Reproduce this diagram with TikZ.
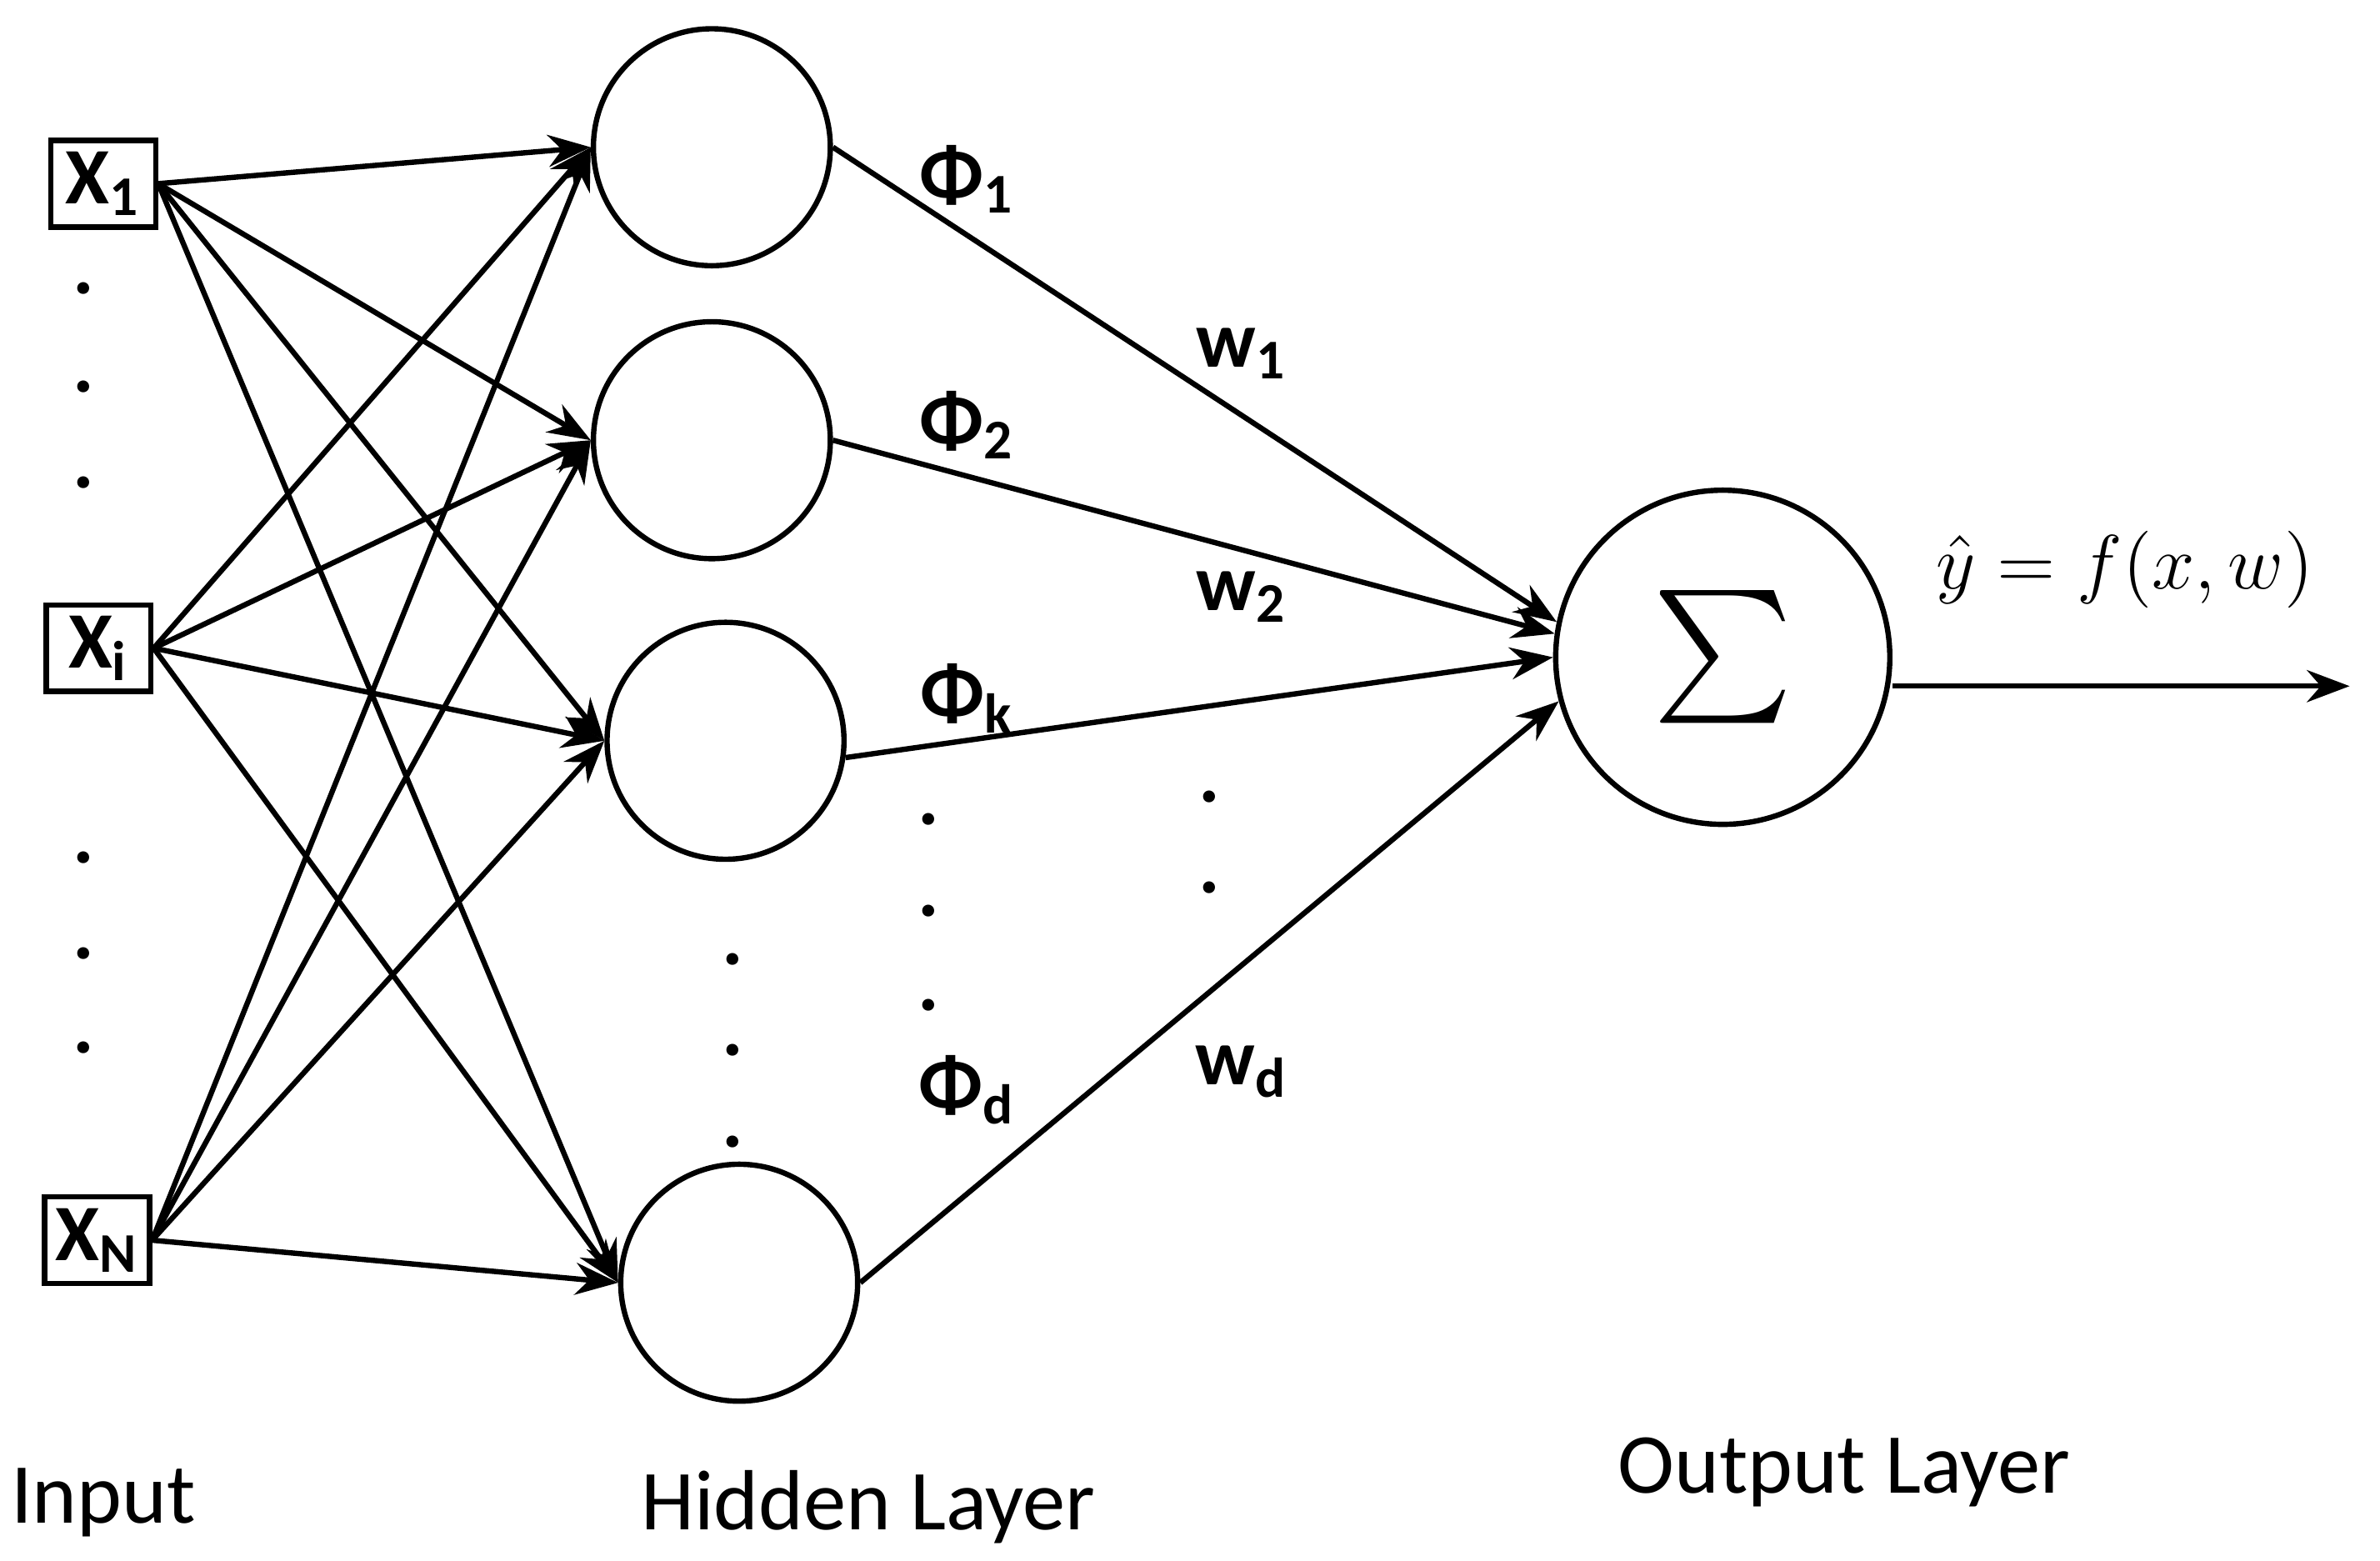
\documentclass[tikz,border=0pt]{standalone}
\usepackage{fontspec}
\setmainfont{Carlito}
\usepackage{amsmath}
\usetikzlibrary{arrows.meta}

\begin{document}
\begin{tikzpicture}[x=0.01cm,y=-0.01cm,
	neuron/.style={draw, circle, line width=1pt, minimum size=1.56cm, inner sep=0pt},
	inbox/.style={draw, line width=1pt, minimum width=0.69cm, minimum height=0.57cm, inner sep=0pt, font=\fontsize{15}{17}\selectfont\bfseries},
	link/.style={line width=1pt, -{Stealth[length=8pt,width=6pt]}},
	lbl/.style={font=\fontsize{15}{17}\selectfont\bfseries},
	dot/.style={font=\fontsize{15}{17}\selectfont\bfseries}
	]
	\useasboundingbox (0,0) rectangle (1568,1028);
	
	% input boxes
	\node[inbox] (x1) at (68,121) {X\textsubscript{1}};
	\node[inbox] (xi) at (65,427) {X\textsubscript{i}};
	\node[inbox] (xn) at (64,817) {X\textsubscript{N}};
	
	% hidden layer
	\node[neuron] (h1) at (469,97) {};
	\node[neuron] (h2) at (469,290) {};
	\node[neuron] (h3) at (478,488) {};
	\node[neuron] (h4) at (487,845) {};
	
	% output neuron
	\node[neuron, minimum size=2.2cm] (out) at (1135,433) {\fontsize{44}{44}\selectfont$\sum$};
	\coordinate (end) at (1548,452);
	
	% input to hidden
	\foreach \i in {x1,xi,xn}
	\foreach \h in {h1,h2,h3,h4}
	\draw[link] (\i.east) -- (\h.west);
	
	% hidden to output
	\draw[link] (h1.east) -- (out.168);
	\draw[link] (h2.east) -- (out.172);
	\draw[link] (h3.-8) -- (out.180);
	\draw[link] (h4.east) -- (out.195);
	\draw[link] (out.east |- end) -- (end);
	
	% dots
	\foreach \y in {190,255,318,565,628,690}
	\node[dot] (dl\y) at (55,\y) {.};
	\foreach \y in {632,692,752}
	\node[dot] (dh\y) at (483,\y) {.};
	\foreach \y in {540,600,662}
	\node[dot] (dp\y) at (612,\y) {.};
	\foreach \y in {525,585}
	\node[dot] (dw\y) at (797,\y) {.};
	
	% weights and basis functions
	\node[lbl] (phi1) at (637,118) {Φ\textsubscript{1}};
	\node[lbl] (phi2) at (637,280) {Φ\textsubscript{2}};
	\node[lbl] (phik) at (637,460) {Φ\textsubscript{k}};
	\node[lbl] (phid) at (637,718) {Φ\textsubscript{d}};
	\node[lbl] (w1) at (818,233) {w\textsubscript{1}};
	\node[lbl] (w2) at (818,393) {w\textsubscript{2}};
	\node[lbl] (wd) at (818,706) {w\textsubscript{d}};
	\node[font=\fontsize{14}{16}\selectfont] (yhat) at (1400,375) {$\hat{y} = f(x,w)$};
	
	% layer names
	\node[font=\fontsize{16}{18}\selectfont] (inp) at (68,990) {Input};
	\node[font=\fontsize{16}{18}\selectfont] (hid) at (572,993) {Hidden Layer};
	\node[font=\fontsize{16}{18}\selectfont] (outl) at (1215,970) {Output Layer};
\end{tikzpicture}
\end{document}
